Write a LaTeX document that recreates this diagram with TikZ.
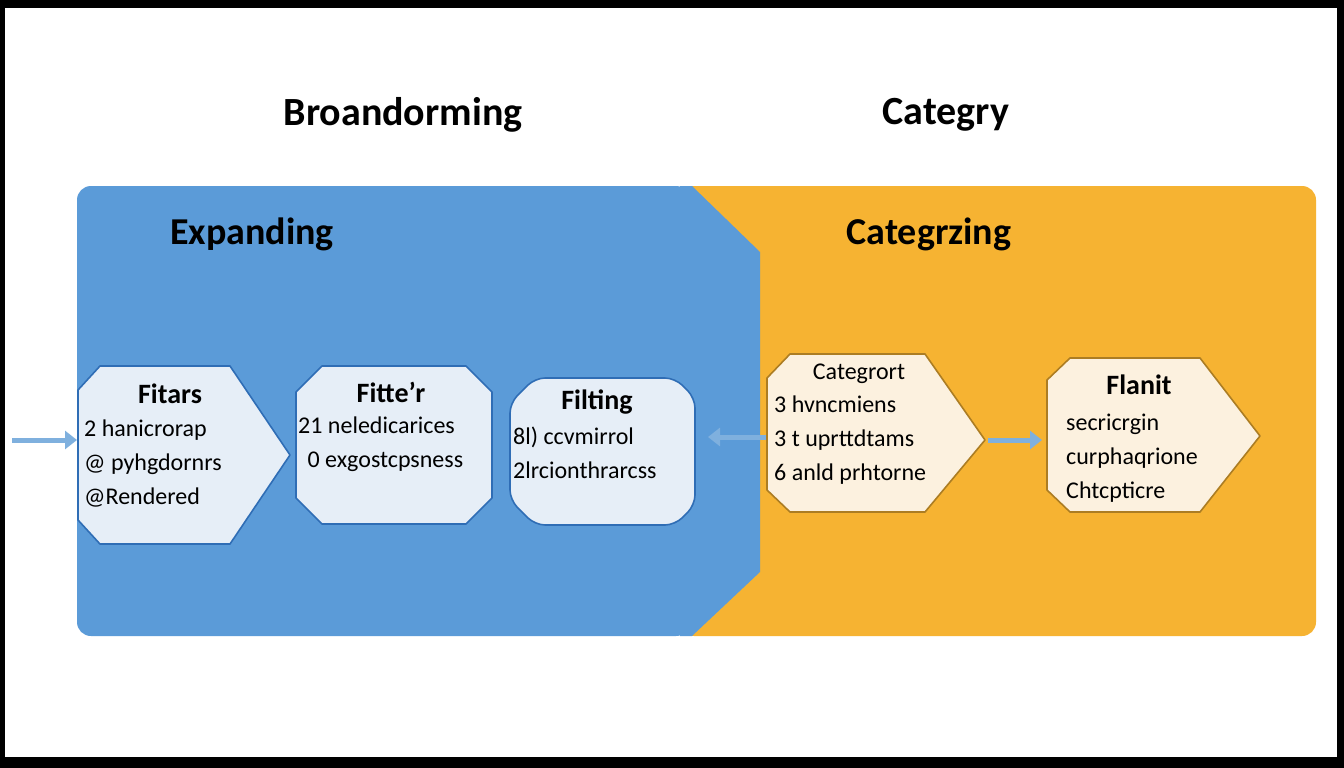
\documentclass[tikz,border=0pt]{standalone}
\usepackage{fontspec}
\setmainfont{Carlito}
\usetikzlibrary{arrows.meta}
\definecolor{bluep}{HTML}{5B9BD8}
\definecolor{orap}{HTML}{F6B332}
\definecolor{bfill}{HTML}{E6EEF7}
\definecolor{ofill}{HTML}{FCF1DF}
\definecolor{bline}{HTML}{2F6DB5}
\definecolor{arr}{HTML}{7FB0DE}
\begin{document}
\begin{tikzpicture}[x=1pt,y=-1pt,
  box/.style={line width=1.6pt,line join=round},
  bbox/.style={box,draw=bline,fill=bfill},
  obox/.style={box,draw=orap!70!black,fill=ofill},
  txt/.style={align=left,font=\fontsize{24}{34}\selectfont,inner sep=0pt},
  hd/.style={font=\fontsize{28}{32}\selectfont\bfseries,inner sep=0pt},
  ttl/.style={font=\fontsize{40}{44}\selectfont\bfseries,inner sep=0pt},
  conn/.style={draw=arr,line width=5pt,-{Triangle[length=12pt,width=18pt]}}]
\useasboundingbox (0,0) rectangle (1344,768);
\fill[black] (0,0) rectangle (1344,768);
\fill[white] (5,8) rectangle (1337,757);
% panels
\fill[orap,rounded corners=14pt] (680,186) rectangle (1316,636);
\fill[bluep,rounded corners=14pt] (77,186) rectangle (690,636);
\fill[bluep] (680,186) -- (692,186) -- (760,252) -- (760,572) -- (692,636) -- (680,636) -- cycle;
\node[ttl] (t1) at (403,115) {Broandorming};
\node[ttl] (t2) at (946,115) {Categry};
\node[hd,font=\fontsize{38}{42}\selectfont\bfseries] (h1) at (252,234) {Expanding};
\node[hd,font=\fontsize{38}{42}\selectfont\bfseries] (h2) at (929,234) {Categrzing};
% boxes
\draw[bbox] (100,366) -- (230,366) -- (290,455) -- (230,544) -- (100,544) -- (78,520) -- (78,390) -- cycle;
\draw[bbox] (322,366) -- (466,366) -- (492,392) -- (492,498) -- (466,524) -- (322,524) -- (296,498) -- (296,392) -- cycle;
\draw[bbox,rounded corners=10pt] (535,378) -- (675,378) -- (695,398) -- (695,505) -- (675,525) -- (535,525) -- (510,500) -- (510,403) -- cycle;
\draw[obox] (790,354) -- (925,354) -- (985,440) -- (925,512) -- (790,512) -- (767,490) -- (767,378) -- cycle;
\draw[obox] (1070,358) -- (1200,358) -- (1260,436) -- (1200,512) -- (1070,512) -- (1047,490) -- (1047,380) -- cycle;
\coordinate (b1w) at (77,440); \coordinate (a0) at (12,440);
\coordinate (b3e) at (708,437); \coordinate (b4w) at (766,437);
\coordinate (b4e) at (988,440); \coordinate (b5w) at (1042,440);
\draw[conn] (a0) -- (b1w);
\draw[conn] (b4w) -- (b3e);
\draw[conn] (b4e) -- (b5w);
% texts
\node[hd] (n1h) at (170,394) {Fitars};
\node[txt,anchor=north west] (n1) at (84,420) {2 hanicrorap\\@ pyhgdornrs\\@Rendered};
\node[hd] (n2h) at (391,392) {Fitte'r};
\node[txt,anchor=north west] (n2) at (298,417) {21 neledicarices\\\ \,0 exgostcpsness};
\node[hd] (n3h) at (597,402) {Filting};
\node[txt,anchor=north west] (n3) at (513,427) {8l) ccvmirrol\\2lrcionthrarcss};
\node[txt,anchor=north] (n4h) at (859,364) {Categrort};
\node[txt,anchor=north west] (n4) at (774,396) {3 hvncmiens\\3 t uprttdtams\\6 anld prhtorne};
\node[hd] (n5h) at (1139,385) {Flanit};
\node[txt,anchor=north west] (n5) at (1066,414) {secricrgin\\curphaqrione\\Chtcpticre};
\end{tikzpicture}
\end{document}
